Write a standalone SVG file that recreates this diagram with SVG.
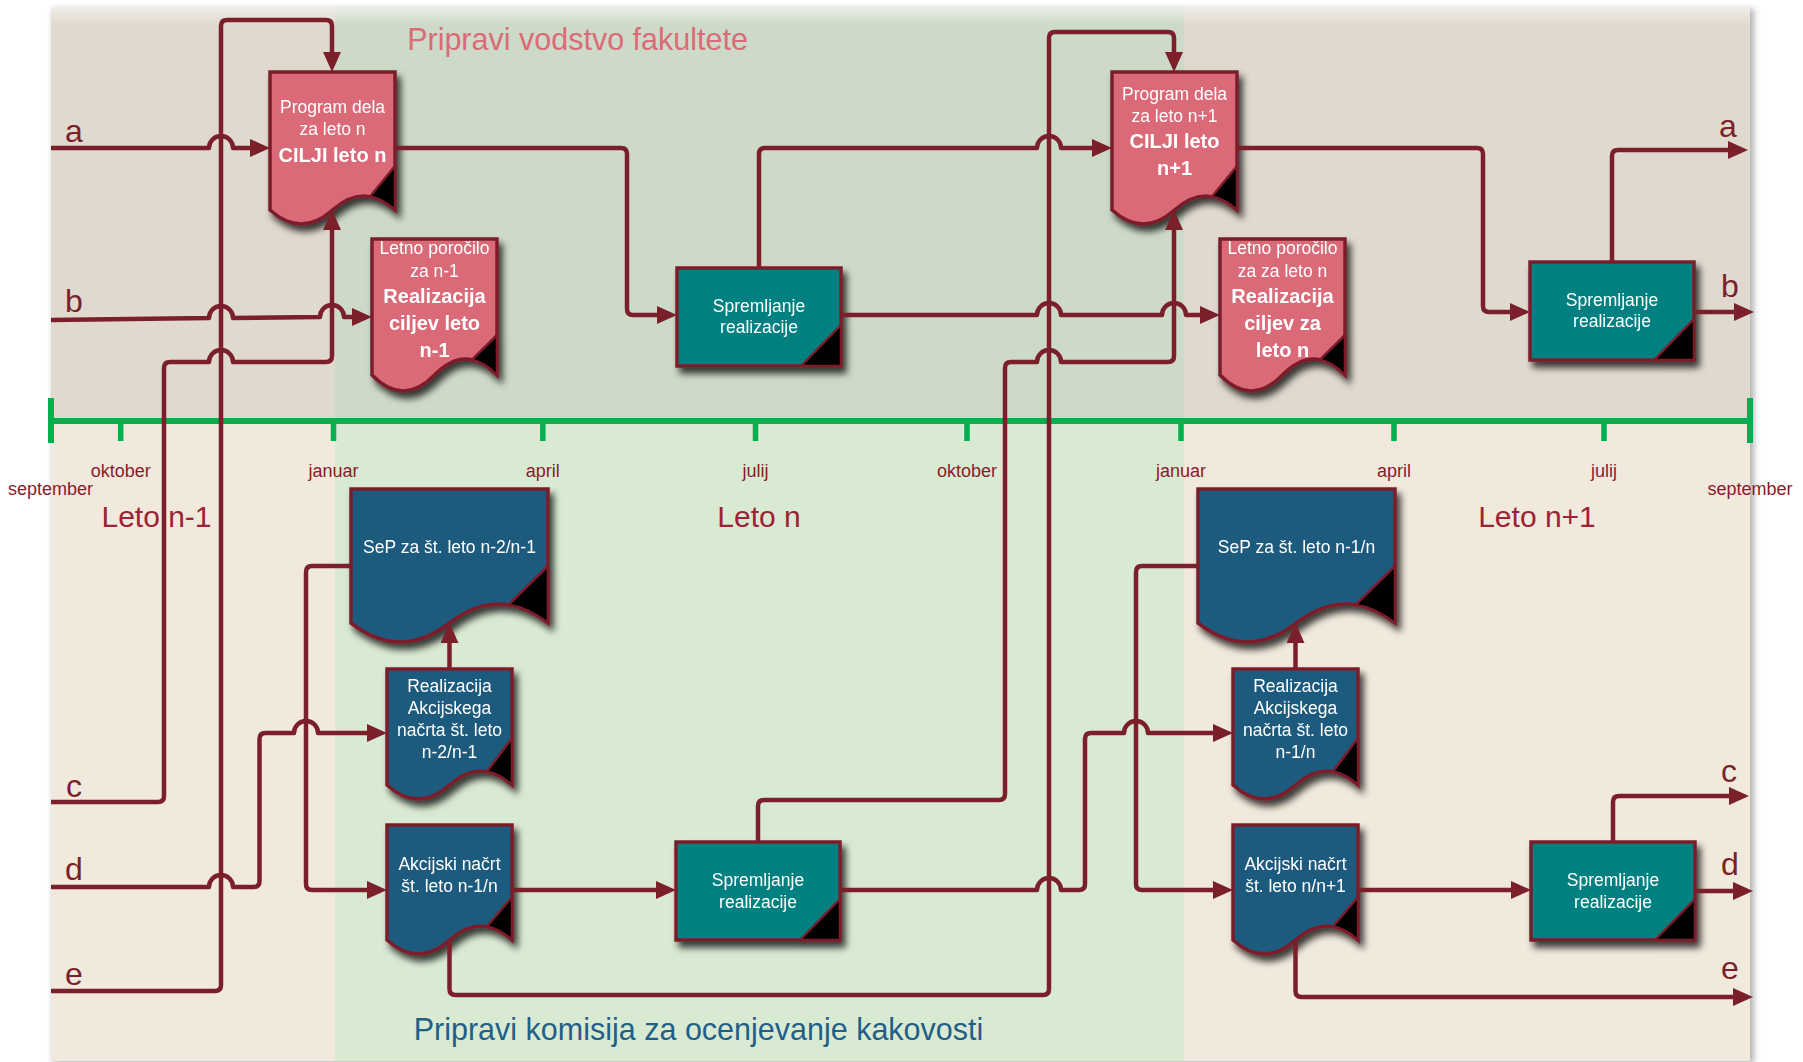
<svg xmlns="http://www.w3.org/2000/svg" width="1803" height="1062" viewBox="0 0 1803 1062">
<defs>
<style>
.conn{fill:none;stroke:#7B1F2B;stroke-width:4.5;stroke-linejoin:round}
.arr{marker-end:url(#ah)}
.shape{stroke:#7B1F2B;stroke-width:3.5}
.pink{fill:#DA6A77}
.blue{fill:#1E5A7E}
.teal{fill:#008080}
.fold{fill:#000;stroke:#7B1F2B;stroke-width:2.5;stroke-linejoin:round}
text{font-family:'Liberation Sans',Arial,sans-serif}
.nt{font-size:17.5px;fill:#fff;text-anchor:middle}
.nb{font-size:20px;font-weight:bold}
.mon{font-size:18px;fill:#8B1A2B;text-anchor:middle}
.leto{font-size:30px;fill:#9B2335;text-anchor:middle}
.io{font-size:32px;fill:#7B1F2B}
.axis{stroke:#00B04F;fill:none}
</style>
<marker id="ah" markerUnits="userSpaceOnUse" markerWidth="20" markerHeight="18" refX="14" refY="9" orient="auto"><path d="M0,0 L20,9 L0,18 Z" fill="#7B1F2B"/></marker>
<filter id="sh" x="-20%" y="-20%" width="150%" height="150%"><feDropShadow dx="4" dy="6" stdDeviation="3.5" flood-color="#000" flood-opacity="0.75"/></filter>
<filter id="blur" x="-10%" y="-10%" width="120%" height="120%"><feGaussianBlur stdDeviation="3"/></filter>
<linearGradient id="topg" x1="0" y1="0" x2="0" y2="1"><stop offset="0" stop-color="#fff" stop-opacity="0.55"/><stop offset="1" stop-color="#fff" stop-opacity="0"/></linearGradient>
</defs>

<g id="background">
<rect x="53" y="9" width="1701" height="1054" fill="#000" opacity="0.3" filter="url(#blur)"/>
<rect x="51" y="7" width="284" height="414" fill="#E0D9CE"/>
<rect x="51" y="421" width="284" height="640" fill="#F1E9DC"/>
<rect x="335" y="7" width="849" height="414" fill="#CEDAC8"/>
<rect x="335" y="421" width="849" height="640" fill="#D9EAD3"/>
<rect x="1184" y="7" width="566" height="414" fill="#E0D9CE"/>
<rect x="1184" y="421" width="566" height="640" fill="#F1E9DC"/>
<rect x="51" y="7" width="1699" height="18" fill="url(#topg)"/>
<line x1="1186" y1="7" x2="1186" y2="1061" stroke="#000" stroke-width="3" opacity="0.18" filter="url(#blur)"/>
<line x1="336" y1="7" x2="336" y2="1061" stroke="#000" stroke-width="2" opacity="0.12" filter="url(#blur)"/>
</g>

<g id="axis">
<line x1="51" y1="428" x2="1750" y2="428" stroke="#000" stroke-width="7" opacity="0.35" filter="url(#blur)"/>
<path class="axis" stroke-width="6" d="M51,421 H1750 M51,398 V443 M1750,398 V443"/>
<path class="axis" stroke-width="5.5" d="M120.7,421 V441 M333.5,421 V441 M542.8,421 V441 M755.5,421 V441 M967,421 V441 M1181,421 V441 M1394,421 V441 M1604,421 V441"/>
<text class="mon" x="120.7" y="476.5">oktober</text>
<text class="mon" x="333.5" y="476.5">januar</text>
<text class="mon" x="542.8" y="476.5">april</text>
<text class="mon" x="755.5" y="476.5">julij</text>
<text class="mon" x="967" y="476.5">oktober</text>
<text class="mon" x="1181" y="476.5">januar</text>
<text class="mon" x="1394" y="476.5">april</text>
<text class="mon" x="1604" y="476.5">julij</text>
<text class="mon" x="50.6" y="495">september</text>
<text class="mon" x="1750" y="495">september</text>
<text class="leto" x="156.5" y="527">Leto n-1</text>
<text class="leto" x="759" y="527">Leto n</text>
<text class="leto" x="1537" y="527">Leto n+1</text>
</g>

<g id="titles">
<text x="577.5" y="50" font-size="30.5" fill="#DA6B78" text-anchor="middle">Pripravi vodstvo fakultete</text>
<text x="698.5" y="1040" font-size="30.5" fill="#1F5F88" text-anchor="middle">Pripravi komisija za ocenjevanje kakovosti</text>
</g>

<g id="io-labels">
<text class="io" x="65" y="141.5">a</text>
<text class="io" x="65" y="311.5">b</text>
<text class="io" x="66" y="796.5">c</text>
<text class="io" x="65" y="880">d</text>
<text class="io" x="65" y="985">e</text>
<text class="io" x="1719" y="137">a</text>
<text class="io" x="1721" y="297">b</text>
<text class="io" x="1721" y="782">c</text>
<text class="io" x="1721" y="875">d</text>
<text class="io" x="1721" y="979">e</text>
</g>

<g id="node-p1" filter="url(#sh)">
<path class="shape pink" d="M270,72 H395 V210 Q363.75,182 332.5,210 Q301.25,238 270,210 Z"/>
<path class="fold" d="M395,166 L370,196.56 Q382.5,198.8 395,210 Z"/>
<text class="nt" x="332.5" y="113">Program dela</text>
<text class="nt" x="332.5" y="135">za leto n</text>
<text class="nt nb" x="332.5" y="161.5">CILJI leto n</text>
</g>

<g id="node-l1" filter="url(#sh)">
<path class="shape pink" d="M372,239 H497 V375 Q465.75,343 434.5,375 Q403.25,407 372,375 Z"/>
<path class="fold" d="M497,335 L472,359.64 Q484.5,362.2 497,375 Z"/>
<text class="nt" x="434.5" y="254">Letno poročilo</text>
<text class="nt" x="434.5" y="276.5">za n-1</text>
<text class="nt nb" x="434.5" y="302.5">Realizacija</text>
<text class="nt nb" x="434.5" y="330">ciljev leto</text>
<text class="nt nb" x="434.5" y="356.5">n-1</text>
</g>

<g id="node-s1" filter="url(#sh)">
<rect class="shape teal" x="677" y="268" width="164" height="98"/>
<path class="fold" d="M841,325 V366 H801 Z"/>
<text class="nt" x="759" y="311.5">Spremljanje</text>
<text class="nt" x="759" y="333">realizacije</text>
</g>

<g id="node-p2" filter="url(#sh)">
<path class="shape pink" d="M1112,72 H1237 V210 Q1205.75,182 1174.5,210 Q1143.25,238 1112,210 Z"/>
<path class="fold" d="M1237,166 L1212,196.56 Q1224.5,198.8 1237,210 Z"/>
<text class="nt" x="1174.5" y="100">Program dela</text>
<text class="nt" x="1174.5" y="121.5">za leto n+1</text>
<text class="nt nb" x="1174.5" y="148">CILJI leto</text>
<text class="nt nb" x="1174.5" y="175">n+1</text>
</g>

<g id="node-l2" filter="url(#sh)">
<path class="shape pink" d="M1220,239 H1345 V375 Q1313.75,343 1282.5,375 Q1251.25,407 1220,375 Z"/>
<path class="fold" d="M1345,335 L1320,359.64 Q1332.5,362.2 1345,375 Z"/>
<text class="nt" x="1282.5" y="254">Letno poročilo</text>
<text class="nt" x="1282.5" y="276.5">za za leto n</text>
<text class="nt nb" x="1282.5" y="302.5">Realizacija</text>
<text class="nt nb" x="1282.5" y="330">ciljev za</text>
<text class="nt nb" x="1282.5" y="356.5">leto n</text>
</g>

<g id="node-s2" filter="url(#sh)">
<rect class="shape teal" x="1530" y="262" width="164" height="98"/>
<path class="fold" d="M1694,319 V360 H1654 Z"/>
<text class="nt" x="1612" y="305.5">Spremljanje</text>
<text class="nt" x="1612" y="327">realizacije</text>
</g>

<g id="node-sep1" filter="url(#sh)">
<path class="shape blue" d="M351,489 H548 V623 Q498.75,585 449.5,623 Q400.25,661 351,623 Z"/>
<path class="fold" d="M548,566 L508.6,604.76 Q528.3,607.8 548,623 Z"/>
<text class="nt" x="449.5" y="553">SeP za št. leto n-2/n-1</text>
</g>

<g id="node-r1" filter="url(#sh)">
<path class="shape blue" d="M387,669 H512 V785 Q480.75,757 449.5,785 Q418.25,813 387,785 Z"/>
<path class="fold" d="M512,738 L487,771.56 Q499.5,773.8 512,785 Z"/>
<text class="nt" x="449.5" y="691.5">Realizacija</text>
<text class="nt" x="449.5" y="714">Akcijskega</text>
<text class="nt" x="449.5" y="736">načrta št. leto</text>
<text class="nt" x="449.5" y="757.5">n-2/n-1</text>
</g>

<g id="node-a1" filter="url(#sh)">
<path class="shape blue" d="M387,825 H512 V940 Q480.75,912 449.5,940 Q418.25,968 387,940 Z"/>
<path class="fold" d="M512,897 L487,926.56 Q499.5,928.8 512,940 Z"/>
<text class="nt" x="449.5" y="870">Akcijski načrt</text>
<text class="nt" x="449.5" y="891.5">št. leto n-1/n</text>
</g>

<g id="node-s3" filter="url(#sh)">
<rect class="shape teal" x="676" y="842" width="164" height="98"/>
<path class="fold" d="M840,899 V940 H800 Z"/>
<text class="nt" x="758" y="886">Spremljanje</text>
<text class="nt" x="758" y="907.5">realizacije</text>
</g>

<g id="node-sep2" filter="url(#sh)">
<path class="shape blue" d="M1198,489 H1395 V623 Q1345.75,585 1296.5,623 Q1247.25,661 1198,623 Z"/>
<path class="fold" d="M1395,566 L1355.6,604.76 Q1375.3,607.8 1395,623 Z"/>
<text class="nt" x="1296.5" y="553">SeP za št. leto n-1/n</text>
</g>

<g id="node-r2" filter="url(#sh)">
<path class="shape blue" d="M1233,669 H1358 V785 Q1326.75,757 1295.5,785 Q1264.25,813 1233,785 Z"/>
<path class="fold" d="M1358,738 L1333,771.56 Q1345.5,773.8 1358,785 Z"/>
<text class="nt" x="1295.5" y="691.5">Realizacija</text>
<text class="nt" x="1295.5" y="714">Akcijskega</text>
<text class="nt" x="1295.5" y="736">načrta št. leto</text>
<text class="nt" x="1295.5" y="757.5">n-1/n</text>
</g>

<g id="node-a2" filter="url(#sh)">
<path class="shape blue" d="M1233,825 H1358 V940 Q1326.75,912 1295.5,940 Q1264.25,968 1233,940 Z"/>
<path class="fold" d="M1358,897 L1333,926.56 Q1345.5,928.8 1358,940 Z"/>
<text class="nt" x="1295.5" y="870">Akcijski načrt</text>
<text class="nt" x="1295.5" y="891.5">št. leto n/n+1</text>
</g>

<g id="node-s4" filter="url(#sh)">
<rect class="shape teal" x="1531" y="842" width="164" height="98"/>
<path class="fold" d="M1695,899 V940 H1655 Z"/>
<text class="nt" x="1613" y="886">Spremljanje</text>
<text class="nt" x="1613" y="907.5">realizacije</text>
</g>

<g id="connectors">
<path class="conn arr" d="M51,148 H209 a12,12 0 0 1 24,0 H264"/>
<path class="conn arr" d="M51,320 L209,318 a12,12 0 0 1 24,0 L320,317 a12,12 0 0 1 24,0 H366"/>
<path class="conn arr" d="M51,802 H158 Q164,802 164,796 V368 Q164,362 170,362 H209 a12,12 0 0 1 24,0 H326 Q332,362 332,356 V216"/>
<path class="conn arr" d="M51,887 H209 a12,12 0 0 1 24,0 H253.5 Q259.5,887 259.5,881 V739 Q259.5,733 265.5,733 H294 a12,12 0 0 1 24,0 H381"/>
<path class="conn arr" d="M51,991 H215 Q221,991 221,985 V26 Q221,20 227,20 H326 Q332,20 332,26 V66"/>
<path class="conn arr" d="M351,566 H312 Q306,566 306,572 V884 Q306,890 312,890 H381"/>
<path class="conn arr" d="M449.5,669 V629"/>
<path class="conn arr" d="M512,890 H670"/>
<path class="conn arr" d="M449.5,940 V989 Q449.5,995 455.5,995 H1043 Q1049,995 1049,989 V38 Q1049,32 1055,32 H1168 Q1174,32 1174,38 V66"/>
<path class="conn arr" d="M395,148 H621 Q627,148 627,154 V309 Q627,315 633,315 H671"/>
<path class="conn arr" d="M759,268 V154 Q759,148 765,148 H1037 a12,12 0 0 1 24,0 H1106"/>
<path class="conn arr" d="M841,315 H1037 a12,12 0 0 1 24,0 H1162 a12,12 0 0 1 24,0 H1214"/>
<path class="conn arr" d="M758,842 V806 Q758,800 764,800 H999 Q1005,800 1005,794 V368 Q1005,362 1011,362 H1037 a12,12 0 0 1 24,0 H1168 Q1174,362 1174,356 V216"/>
<path class="conn arr" d="M840,890 H1037 a12,12 0 0 1 24,0 H1079 Q1085,890 1085,884 V739 Q1085,733 1091,733 H1124 a12,12 0 0 1 24,0 H1227"/>
<path class="conn arr" d="M1198,566 H1142 Q1136,566 1136,572 V884 Q1136,890 1142,890 H1227"/>
<path class="conn arr" d="M1295.5,669 V629"/>
<path class="conn arr" d="M1358,890 H1525"/>
<path class="conn arr" d="M1295.5,940 V991 Q1295.5,997 1301.5,997 H1747"/>
<path class="conn arr" d="M1613,842 V802 Q1613,796 1619,796 H1743"/>
<path class="conn arr" d="M1695,891 H1747"/>
<path class="conn arr" d="M1237,148 H1477 Q1483,148 1483,154 V306 Q1483,312 1489,312 H1524"/>
<path class="conn arr" d="M1612,262 V156 Q1612,150 1618,150 H1742"/>
<path class="conn arr" d="M1694,312 H1748"/>
</g>
</svg>
